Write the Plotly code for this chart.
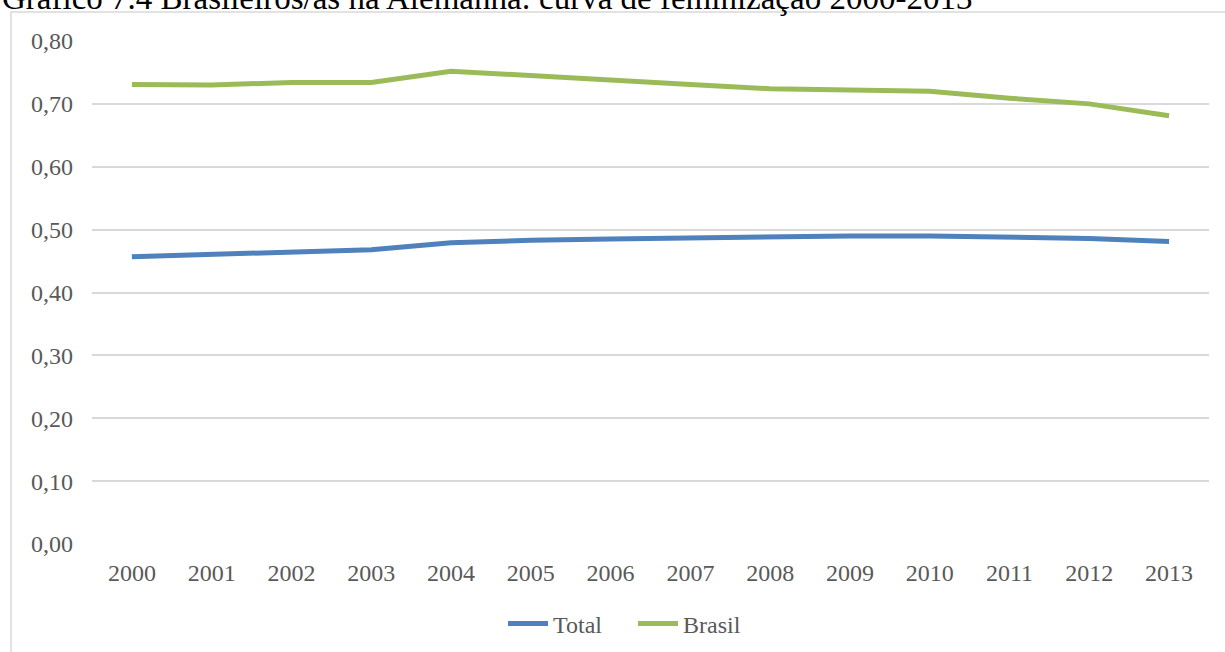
import plotly.graph_objects as go

years = ["2000", "2001", "2002", "2003", "2004", "2005", "2006",
         "2007", "2008", "2009", "2010", "2011", "2012", "2013"]
total = [0.457, 0.460, 0.464, 0.468, 0.479, 0.483, 0.485,
         0.487, 0.488, 0.490, 0.490, 0.488, 0.486, 0.481]
brasil = [0.731, 0.730, 0.734, 0.734, 0.752, 0.745, 0.740,
          0.731, 0.724, 0.722, 0.720, 0.709, 0.700, 0.681]
yticks = [0.0, 0.1, 0.2, 0.3, 0.4, 0.5, 0.6, 0.7, 0.8]
title = "Gráfico 7.4 Brasileiros/as na Alemanha: curva de feminização 2000-2013"

W, H = 1225, 652
ML, MR, MT, MB = 92, 16, 41, 108
PW, PH = W - ML - MR, H - MT - MB

FONT = "Liberation Serif"

fig = go.Figure()
fig.add_trace(go.Scatter(x=years, y=total, mode="lines", name="Total",
                         line=dict(color="#4f81bd", width=5)))
fig.add_trace(go.Scatter(x=years, y=brasil, mode="lines", name="Brasil",
                         line=dict(color="#9bbb59", width=5)))

def px_x(p):
    return (p - ML) / PW

def px_y(p):
    return (H - MB - p) / PH

fig.update_layout(
    width=W, height=H,
    margin=dict(l=ML, r=MR, t=MT, b=MB, autoexpand=False),
    paper_bgcolor="white", plot_bgcolor="white",
    font=dict(family=FONT, size=24, color="#595959"),
    separators=",.",
    showlegend=True,
    legend=dict(orientation="h", xref="container", yref="container",
                x=633 / W, xanchor="center",
                y=1 - 624 / H, yanchor="middle",
                font=dict(family=FONT, size=24, color="#595959"),
                itemwidth=40, entrywidth=75, tracegroupgap=0),
    xaxis=dict(type="category", range=[-0.5, 13.5], showgrid=False,
               showline=False, zeroline=False, ticks="",
               ticklabelstandoff=12, automargin=False,
               tickfont=dict(family=FONT, size=24, color="#595959")),
    yaxis=dict(range=[0, 0.8], tickvals=yticks, tickformat=".2f",
               showgrid=True, gridcolor="#d9d9d9", gridwidth=1.5,
               zeroline=False, showline=False, ticks="",
               ticklabelstandoff=18, automargin=False,
               tickfont=dict(family=FONT, size=24, color="#595959")),
    shapes=[dict(type="rect", xref="paper", yref="paper",
                 x0=px_x(11), x1=px_x(1226), y0=px_y(670), y1=px_y(12),
                 line=dict(color="#d9d9d9", width=1.5),
                 fillcolor="rgba(0,0,0,0)", layer="below")],
    annotations=[dict(text=title, xref="paper", yref="paper",
                      x=px_x(0), xanchor="left", y=px_y(18), yanchor="bottom",
                      showarrow=False,
                      font=dict(family=FONT, size=33, color="black"))],
)

fig.write_html("out.html")
